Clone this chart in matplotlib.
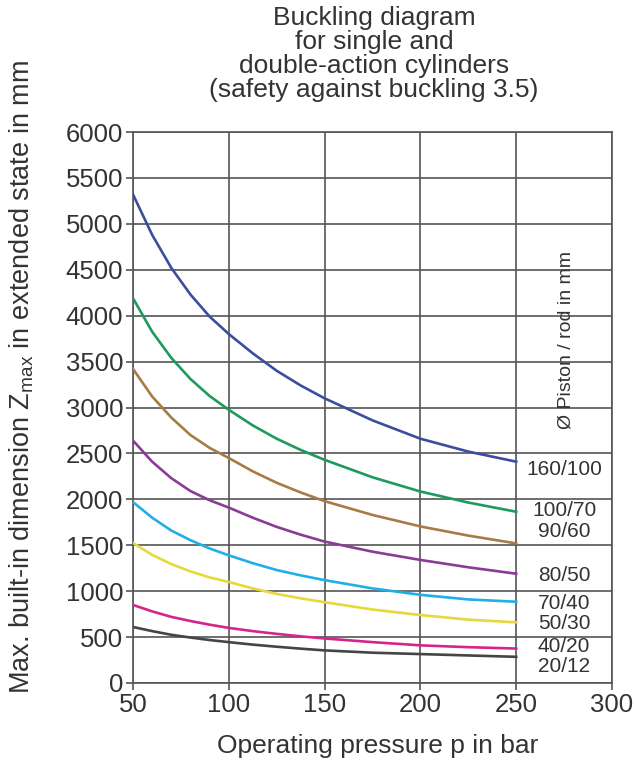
import matplotlib
matplotlib.use("Agg")
import matplotlib.pyplot as plt

plt.rcParams['font.family'] = ['Liberation Sans', 'DejaVu Sans']
plt.rcParams['mathtext.fontset'] = 'custom'
plt.rcParams['mathtext.rm'] = 'Liberation Sans'
plt.rcParams['mathtext.it'] = 'Liberation Sans'

# operating pressure in bar
pressure = [50, 60, 70, 80, 90, 100, 112.5, 125, 137.5, 150, 175, 200, 225, 250]

# max built-in dimension in mm
d160_100 = [5320, 4880, 4520, 4230, 3990, 3800, 3590, 3400, 3240, 3100, 2860, 2660, 2520, 2410]
d100_70 = [4190, 3825, 3540, 3310, 3125, 2975, 2805, 2660, 2538, 2430, 2240, 2085, 1965, 1865]
d90_60 = [3420, 3120, 2890, 2700, 2560, 2450, 2305, 2180, 2075, 1980, 1830, 1705, 1605, 1520]
d80_50 = [2640, 2410, 2230, 2090, 1990, 1910, 1800, 1700, 1615, 1540, 1430, 1340, 1260, 1190]
d70_40 = [1970, 1800, 1660, 1555, 1465, 1390, 1305, 1230, 1172, 1120, 1030, 960, 910, 885]
d50_30 = [1525, 1395, 1295, 1215, 1150, 1100, 1030, 970, 922, 880, 800, 740, 690, 660]
d40_20 = [850, 780, 720, 675, 635, 600, 565, 535, 508, 485, 445, 410, 390, 375]
d20_12 = [610, 565, 525, 495, 468, 445, 418, 395, 374, 355, 330, 315, 300, 285]

labels = ['160/100', '100/70', '90/60', '80/50', '70/40', '50/30', '40/20', '20/12']
series = [d160_100, d100_70, d90_60, d80_50, d70_40, d50_30, d40_20, d20_12]
colors = ['#3d4d9e', '#1d9a5c', '#a87a44', '#8a3b96', '#22aee6', '#e6d93c', '#d6258a', '#454545']
label_y = [2320, 1875, 1650, 1175, 870, 650, 395, 175]

fig = plt.figure(figsize=(6.34, 7.66), dpi=100)
ax = fig.add_axes([133/634, 1 - 683/766, (612 - 133)/634, (683 - 132)/766])

for vals, col in zip(series, colors):
    ax.plot(pressure, vals, color=col, lw=1.9, zorder=3)

for lab, yy in zip(labels, label_y):
    ax.text(275, yy, lab, ha='center', va='center', fontsize=15, color='#333333')

ax.text(276, 3740, 'Ø Piston / rod in mm', rotation=90, ha='center', va='center',
        fontsize=14, color='#333333')

ax.set_xlim(50, 300)
ax.set_ylim(0, 6000)
ax.set_xticks(range(50, 301, 50))
ax.set_yticks(range(0, 6001, 500))
ax.grid(True, color='#555555', lw=1.2)
ax.set_axisbelow(True)
for s in ax.spines.values():
    s.set_color('#555555')
    s.set_linewidth(1.2)
ax.tick_params(labelsize=18.5, colors='#333333', length=5, width=1.2, color='#555555', pad=2)

fig.text(374/634, 1 - 6/766,
         'Buckling diagram\nfor single and\ndouble-action cylinders\n(safety against buckling 3.5)',
         ha='center', va='top', fontsize=19, color='#333333', linespacing=1.0)
fig.text(378/634, 1 - 746/766, 'Operating pressure p in bar', ha='center', va='center',
         fontsize=19, color='#333333')
fig.text(22/634, 1 - 377/766, 'Max. built-in dimension Z$_{\\rm max}$ in extended state in mm',
         rotation=90, ha='center', va='center', fontsize=19.5, color='#333333')

fig.savefig('out.png', dpi=100)
